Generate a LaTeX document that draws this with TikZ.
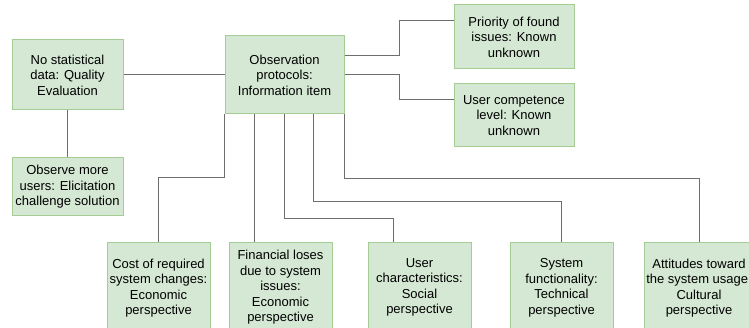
\documentclass[tikz,border=0pt]{standalone}
\usepackage{fontspec}
\setmainfont{Liberation Sans}
\definecolor{boxfill}{HTML}{D5E8D4}
\definecolor{boxline}{HTML}{A6CC96}
\definecolor{wire}{HTML}{6E6E6E}
\begin{document}
\begin{tikzpicture}[x=1pt,y=-1pt,
  box/.style={draw=boxline,fill=boxfill,line width=1pt,inner sep=0pt,align=center,
    font=\fontsize{13}{15.5}\selectfont},
  wirestyle/.style={draw=wire,line width=1pt}]
\useasboundingbox (0,0) rectangle (749,328);
\node[box,minimum width=111pt,minimum height=70pt] (nostat) at (67.5,75) {No statistical\\data: Quality\\Evaluation};
\node[box,minimum width=119pt,minimum height=78pt] (obs) at (284.5,75) {Observation\\protocols:\\Information item};
\node[box,minimum width=120pt,minimum height=64pt] (prio) at (514,37) {Priority of found\\issues: Known\\unknown};
\node[box,minimum width=120pt,minimum height=63pt] (comp) at (514,115.5) {User competence\\level: Known\\unknown};
\node[box,minimum width=111pt,minimum height=58pt] (observe) at (67.5,187) {Observe more\\users: Elicitation\\challenge solution};
\node[box,minimum width=103pt,minimum height=90pt] (cost) at (158.5,288) {Cost of required\\system changes:\\Economic\\perspective};
\node[box,minimum width=103pt,minimum height=90pt] (fin) at (280.5,287.5) {Financial loses\\due to system\\issues:\\Economic\\perspective};
\node[box,minimum width=103pt,minimum height=90pt] (user) at (419.5,287.5) {User\\characteristics:\\Social\\perspective};
\node[box,minimum width=103pt,minimum height=90pt] (sys) at (561.5,288) {System\\functionality:\\Technical\\perspective};
\node[box,minimum width=110pt,minimum height=90pt] (att) at (699,288) {Attitudes toward\\the system usage:\\Cultural\\perspective};
\begin{scope}[wirestyle]
\draw (nostat) -- (obs);
\draw (nostat) -- (observe);
\draw ([yshift=19pt]obs.east) -- (399,56) |- (prio.west |- 0,21);
\draw (obs.east) -- (399,75) |- (comp.west |- 0,100);
\draw (obs.south west) |- (158,178) -- (158,178 |- cost.north);
\draw ([xshift=30pt]obs.south west) coordinate (l2) -- (l2 |- fin.north);
\draw ([xshift=60pt]obs.south west) |- (393,219) -- (393,219 |- user.north);
\draw ([xshift=89pt]obs.south west) |- (sys.north |- 0,202) -- (sys.north);
\draw (obs.south east) |- (att.north |- 0,179) -- (att.north);
\end{scope}
\end{tikzpicture}
\end{document}
